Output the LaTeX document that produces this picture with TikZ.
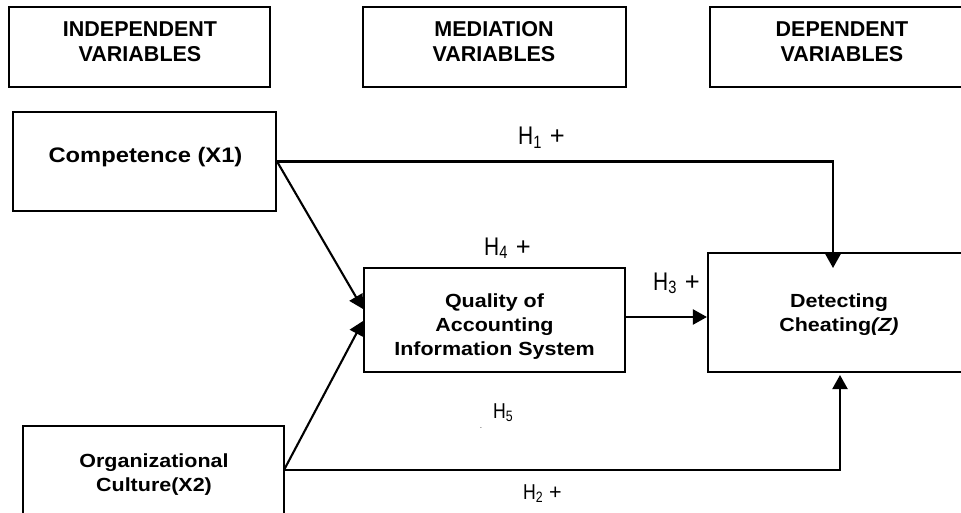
\documentclass[tikz,border=0pt]{standalone}
\usepackage{fontspec}
\setmainfont{Liberation Sans}
\newfontfamily\headfont{Liberation Sans}
\newfontfamily\boxfont[FakeStretch=1.13]{Liberation Sans}
\newfontfamily\hypfont[FakeStretch=0.82]{Liberation Sans}
\newcommand\plussign{{\headfont +}}
\usetikzlibrary{arrows.meta}
\begin{document}
\begin{tikzpicture}[x=1pt,y=-1pt,
  frame/.style={draw, line width=2.1pt, inner sep=0pt},
  headtxt/.style={align=center, inner sep=0pt, font=\headfont\bfseries\fontsize{21.5}{25}\selectfont},
  boxtxt/.style={align=center, inner sep=0pt, font=\boxfont\bfseries\fontsize{19}{24}\selectfont},
  hyp/.style={anchor=base west, inner sep=0pt, font=\hypfont\fontsize{25.5}{26}\selectfont},
  hypsmall/.style={anchor=base west, inner sep=0pt, font=\hypfont\fontsize{21.5}{22}\selectfont},
  conn/.style={line width=2.1pt, -{Triangle[length=14pt,width=15pt]}}]
\useasboundingbox (0,0) rectangle (961,513);
% header boxes
\node[frame, minimum width=261pt, minimum height=80pt] (ind) at (139.5,47) {};
\node[frame, minimum width=263pt, minimum height=80pt] (med) at (494.5,47) {};
\node[frame, minimum width=264pt, minimum height=80pt] (dep) at (842,47) {};
\node[headtxt] (indtxt) at (140,42) {INDEPENDENT\\VARIABLES};
\node[headtxt] (medtxt) at (494,42) {MEDIATION\\VARIABLES};
\node[headtxt] (deptxt) at (842,42) {DEPENDENT\\VARIABLES};
% main boxes
\node[frame, minimum width=263pt, minimum height=99pt] (comp) at (144.5,161.5) {};
\node[frame, minimum width=261pt, minimum height=104pt] (qual) at (494.5,320) {};
\node[frame, minimum width=260pt, minimum height=119pt] (det) at (838,312.5) {};
\node[frame, minimum width=261pt, minimum height=97pt] (org) at (153.5,474.5) {};
\node[boxtxt, font=\boxfont\bfseries\fontsize{21}{24}\selectfont] (comptxt) at (145.5,157) {Competence (X1)};
\node[boxtxt] (qualtxt) at (494.5,327) {Quality of\\Accounting\\Information System};
\node[boxtxt] (dettxt) at (839,315) {Detecting\\Cheating\textit{(Z)}};
\node[boxtxt] (orgtxt) at (154,474.5) {Organizational\\Culture(X2)};
% connector end points
\coordinate (h1tip) at (833,268);
\coordinate (q1tip) at (363,309);
\coordinate (orgout) at (284,470);
\coordinate (q2tip) at (363,321);
\coordinate (h2tip) at (840,375);
\coordinate (qout) at (625,317);
% connectors
\draw[conn] (comp.east) -| (h1tip);
\draw[conn] (comp.east) -- (q1tip);
\draw[conn] (orgout) -- (q2tip);
\draw[conn] (orgout) -| (h2tip);
\draw[conn] (qout) -- (qout -| det.west);
% labels
\node[hyp] (h1) at (518,145) {H\textsubscript{1}\hspace{2pt} \plussign};
\node[hyp] (h4) at (484,255) {H\textsubscript{4}\hspace{2pt} \plussign};
\node[hyp] (h3) at (653,290) {H\textsubscript{3}\hspace{2pt} \plussign};
\node[hypsmall] (h5) at (493,418) {H\textsubscript{5}};
\node[hypsmall] (h2) at (523,499) {H\textsubscript{2}\hspace{1pt} \plussign};
\node[inner sep=0pt, font=\hypfont\fontsize{8}{8}\selectfont] (dot) at (481,428) {.};
\end{tikzpicture}
\end{document}
